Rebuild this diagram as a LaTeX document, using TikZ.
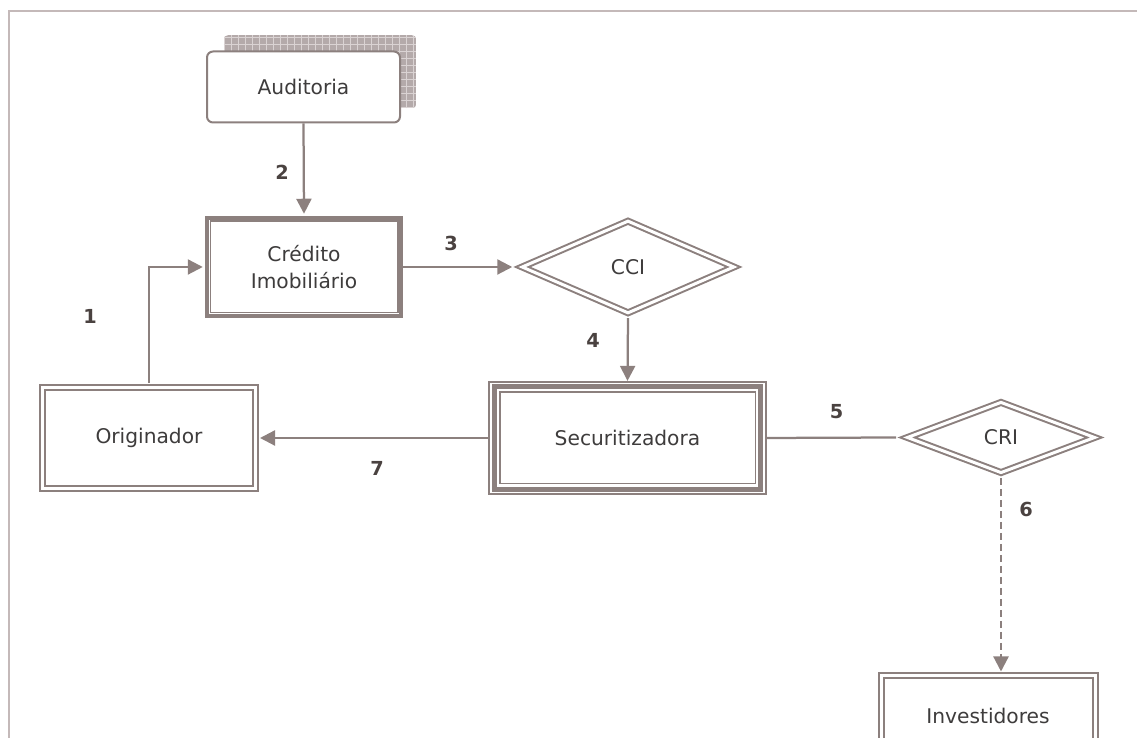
\documentclass[tikz,border=0pt]{standalone}
\usepackage{fontspec}
\setmainfont{DejaVu Sans}
\usetikzlibrary{shapes.geometric}
\usetikzlibrary{arrows.meta}
\definecolor{linegray}{RGB}{140,128,126}
\definecolor{framegray}{RGB}{196,185,185}
\definecolor{txtgray}{RGB}{62,60,60}
\definecolor{numgray}{RGB}{74,66,64}
\definecolor{shadowgray}{RGB}{180,170,170}
\definecolor{gridgray}{RGB}{218,211,211}
\newcommand{\boxfont}{\fontsize{11.5}{15}\selectfont}
\newcommand{\numfont}{\fontsize{11}{12}\selectfont\bfseries}

\begin{document}
\begin{tikzpicture}[
  box/.style={draw=linegray,fill=white,text=txtgray,font=\boxfont,inner sep=0pt,align=center},
  dbl/.style={box,line width=0.04cm,double=white,double distance=0.06cm},
  diam/.style={dbl,diamond},
  conn/.style={draw=linegray,line width=0.045cm},
  arrowed/.style={-{Triangle[length=0.3cm,width=0.3cm]}},
  num/.style={font=\numfont,text=numgray}
]
\clip (0,0) rectangle (22.74,14.76);
\draw[framegray,line width=0.045cm] (0.186,-1) -- (0.186,14.54) -- (24,14.54);

% shadow of Auditoria
\begin{scope}
\clip[rounded corners=0.1cm] (4.47,12.59) rectangle (8.33,14.06);
\fill[shadowgray] (4.47,12.59) rectangle (8.33,14.06);
\draw[gridgray,line width=0.02cm,step=0.14cm] (4.47,12.59) grid (8.33,14.06);
\end{scope}

\node[box,rounded corners=0.12cm,line width=0.04cm,minimum width=3.86cm,minimum height=1.42cm] (aud) at (6.07,13.02) {Auditoria};

\node[box,line width=0.08cm,minimum width=3.89cm,minimum height=1.97cm] (cred) at (6.08,9.42) {Crédito\\Imobiliário};
\draw[linegray,line width=0.03cm] ([shift={(0.11,-0.11)}]cred.north west) rectangle ([shift={(-0.11,0.11)}]cred.south east);

\node[diam,minimum width=4.25cm,minimum height=1.85cm] (cci) at (12.56,9.42) {CCI};

\node[box,line width=0.035cm,minimum width=5.54cm,minimum height=2.25cm] (sec) at (12.55,6.00) {Securitizadora};
\draw[linegray,line width=0.1cm] ([shift={(0.12,-0.12)}]sec.north west) rectangle ([shift={(-0.12,0.12)}]sec.south east);
\draw[linegray,line width=0.035cm] ([shift={(0.23,-0.23)}]sec.north west) rectangle ([shift={(-0.23,0.23)}]sec.south east);

\node[dbl,minimum width=4.26cm,minimum height=2.01cm] (orig) at (2.98,6.00) {Originador};
\node[diam,minimum width=3.76cm,minimum height=1.42cm] (cri) at (20.02,6.01) {CRI};
\node[dbl,minimum width=4.28cm,minimum height=1.6cm] (inv) at (19.76,0.44) {Investidores};

% connectors
\draw[conn,arrowed,shorten >=0.04cm] (aud.south) -- (cred.north);
\draw[conn,arrowed] (cred.east) -- ([xshift=-0.17cm]cci.west);
\draw[conn,arrowed] ([yshift=-0.08cm]cci.south) -- (sec.north);
\draw[conn,arrowed,shorten >=0.07cm] (sec.west) -- (orig.east);
\draw[conn,arrowed,shorten >=0.04cm] ([yshift=0.07cm]orig.north) |- (cred.west);
\draw[conn] (sec.east) -- ([xshift=-0.2cm]cri.west);
\draw[conn,arrowed,dash pattern=on 0.14cm off 0.08cm,shorten >=0.07cm] ([yshift=-0.08cm]cri.south) -- (cri.south |- inv.north);

% step numbers
\node[num] (n1) at (1.80,8.44) {1};
\node[num] (n2) at (5.64,11.32) {2};
\node[num] (n3) at (9.02,9.90) {3};
\node[num] (n4) at (11.86,7.96) {4};
\node[num] (n5) at (16.73,6.53) {5};
\node[num] (n6) at (20.52,4.58) {6};
\node[num] (n7) at (7.54,5.40) {7};

\end{tikzpicture}
\end{document}
